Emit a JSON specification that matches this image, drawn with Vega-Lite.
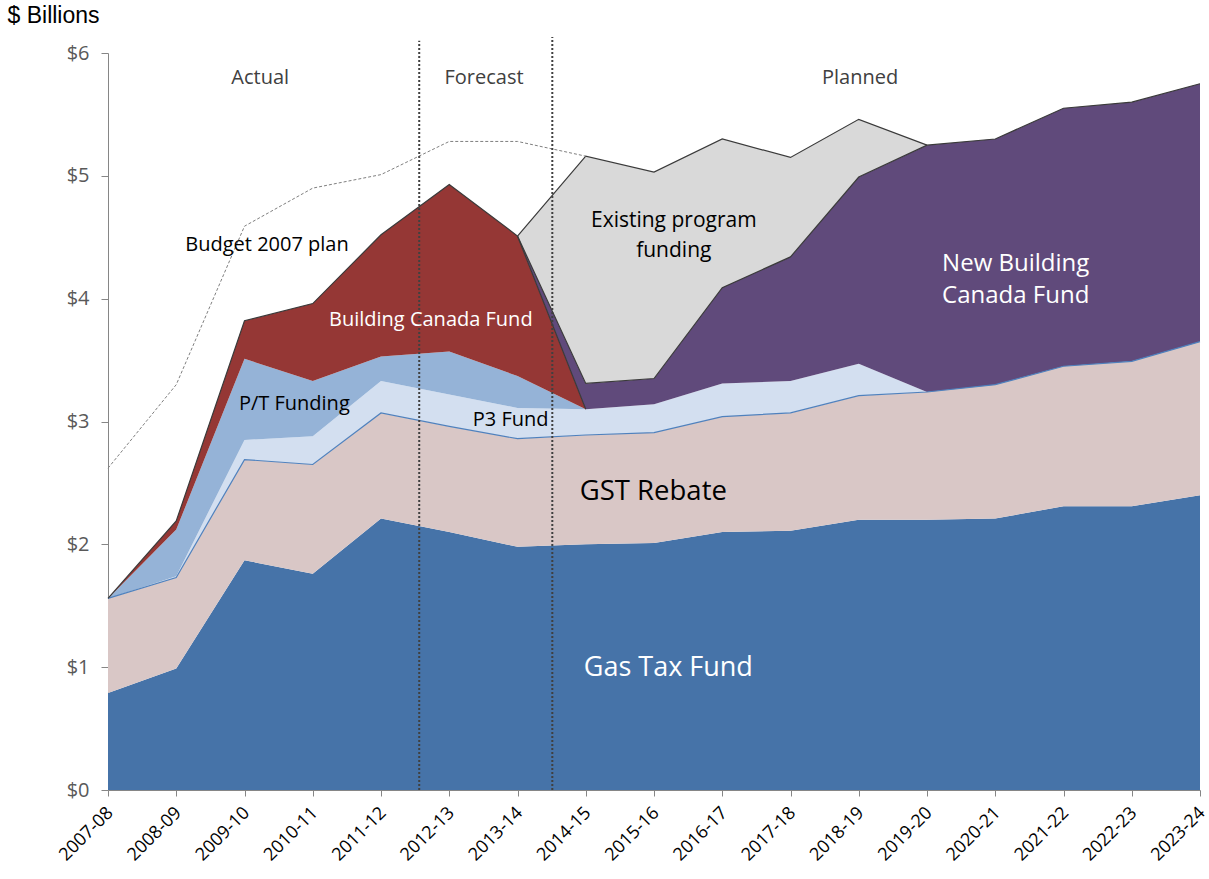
{
  "$schema": "https://vega.github.io/schema/vega-lite/v6.json",
  "autosize": "none",
  "width": 1092,
  "height": 737,
  "padding": {"left": 108, "top": 53, "right": 9, "bottom": 89},
  "background": "white",
  "config": {"view": {"stroke": null}, "font": "Open Sans"},
  "datasets": {
    "funding": [
      {"year": 2007, "Gas Tax Fund": 0.79, "GST Rebate": 0.77, "P3 Fund": 0, "P/T Funding": 0, "Building Canada Fund": 0, "New Building Canada Fund": 0, "Existing program funding": 0},
      {"year": 2008, "Gas Tax Fund": 0.99, "GST Rebate": 0.74, "P3 Fund": 0.01, "P/T Funding": 0.38, "Building Canada Fund": 0.07, "New Building Canada Fund": 0, "Existing program funding": 0},
      {"year": 2009, "Gas Tax Fund": 1.87, "GST Rebate": 0.82, "P3 Fund": 0.16, "P/T Funding": 0.66, "Building Canada Fund": 0.31, "New Building Canada Fund": 0, "Existing program funding": 0},
      {"year": 2010, "Gas Tax Fund": 1.76, "GST Rebate": 0.89, "P3 Fund": 0.23, "P/T Funding": 0.45, "Building Canada Fund": 0.63, "New Building Canada Fund": 0, "Existing program funding": 0},
      {"year": 2011, "Gas Tax Fund": 2.21, "GST Rebate": 0.86, "P3 Fund": 0.26, "P/T Funding": 0.2, "Building Canada Fund": 0.99, "New Building Canada Fund": 0, "Existing program funding": 0},
      {"year": 2012, "Gas Tax Fund": 2.1, "GST Rebate": 0.86, "P3 Fund": 0.26, "P/T Funding": 0.35, "Building Canada Fund": 1.36, "New Building Canada Fund": 0, "Existing program funding": 0},
      {"year": 2013, "Gas Tax Fund": 1.98, "GST Rebate": 0.88, "P3 Fund": 0.25, "P/T Funding": 0.26, "Building Canada Fund": 1.14, "New Building Canada Fund": 0, "Existing program funding": 0},
      {"year": 2014, "Gas Tax Fund": 2.0, "GST Rebate": 0.89, "P3 Fund": 0.21, "P/T Funding": 0, "Building Canada Fund": 0, "New Building Canada Fund": 0.21, "Existing program funding": 1.85},
      {"year": 2015, "Gas Tax Fund": 2.01, "GST Rebate": 0.9, "P3 Fund": 0.23, "P/T Funding": 0, "Building Canada Fund": 0, "New Building Canada Fund": 0.21, "Existing program funding": 1.68},
      {"year": 2016, "Gas Tax Fund": 2.1, "GST Rebate": 0.94, "P3 Fund": 0.27, "P/T Funding": 0, "Building Canada Fund": 0, "New Building Canada Fund": 0.78, "Existing program funding": 1.21},
      {"year": 2017, "Gas Tax Fund": 2.11, "GST Rebate": 0.96, "P3 Fund": 0.26, "P/T Funding": 0, "Building Canada Fund": 0, "New Building Canada Fund": 1.01, "Existing program funding": 0.81},
      {"year": 2018, "Gas Tax Fund": 2.2, "GST Rebate": 1.01, "P3 Fund": 0.26, "P/T Funding": 0, "Building Canada Fund": 0, "New Building Canada Fund": 1.52, "Existing program funding": 0.47},
      {"year": 2019, "Gas Tax Fund": 2.2, "GST Rebate": 1.04, "P3 Fund": 0, "P/T Funding": 0, "Building Canada Fund": 0, "New Building Canada Fund": 2.01, "Existing program funding": 0},
      {"year": 2020, "Gas Tax Fund": 2.21, "GST Rebate": 1.09, "P3 Fund": 0, "P/T Funding": 0, "Building Canada Fund": 0, "New Building Canada Fund": 2.0, "Existing program funding": 0},
      {"year": 2021, "Gas Tax Fund": 2.31, "GST Rebate": 1.14, "P3 Fund": 0, "P/T Funding": 0, "Building Canada Fund": 0, "New Building Canada Fund": 2.1, "Existing program funding": 0},
      {"year": 2022, "Gas Tax Fund": 2.31, "GST Rebate": 1.18, "P3 Fund": 0, "P/T Funding": 0, "Building Canada Fund": 0, "New Building Canada Fund": 2.11, "Existing program funding": 0},
      {"year": 2023, "Gas Tax Fund": 2.4, "GST Rebate": 1.25, "P3 Fund": 0, "P/T Funding": 0, "Building Canada Fund": 0, "New Building Canada Fund": 2.1, "Existing program funding": 0}
    ],
    "budget": [
      {"year": 2007, "plan": 2.62},
      {"year": 2008, "plan": 3.3},
      {"year": 2009, "plan": 4.59},
      {"year": 2010, "plan": 4.9},
      {"year": 2011, "plan": 5.01},
      {"year": 2012, "plan": 5.28},
      {"year": 2013, "plan": 5.28},
      {"year": 2014, "plan": 5.16}
    ]
  },
  "layer": [
    {
      "data": {"name": "funding"},
      "transform": [
        {"fold": ["Gas Tax Fund", "GST Rebate", "P3 Fund", "P/T Funding", "Building Canada Fund", "New Building Canada Fund", "Existing program funding"], "as": ["series", "value"]},
        {"calculate": "indexof(['Gas Tax Fund','GST Rebate','P3 Fund','P/T Funding','Building Canada Fund','New Building Canada Fund','Existing program funding'], datum.series)", "as": "ord"},
        {"stack": "value", "groupby": ["year"], "sort": [{"field": "ord", "order": "ascending"}], "as": ["v0", "v1"]}
      ],
      "layer": [
        {
          "mark": {"type": "area", "interpolate": "linear"},
          "encoding": {
            "x": {
              "field": "year", "type": "quantitative",
              "scale": {"domain": [2007, 2023], "nice": false, "zero": false},
              "axis": {
                "title": null,
                "values": [2007, 2008, 2009, 2010, 2011, 2012, 2013, 2014, 2015, 2016, 2017, 2018, 2019, 2020, 2021, 2022, 2023],
                "labelExpr": "datum.value + '-' + slice(toString(datum.value + 1), 2)",
                "labelAngle": -45, "labelAlign": "right", "labelBaseline": "middle",
                "labelFont": "Open Sans", "labelFontSize": 18, "labelColor": "#000000", "labelPadding": 14, "labelOffset": 2,
                "labelBound": false, "labelOverlap": false,
                "domainColor": "#868686", "tickColor": "#868686", "tickSize": 6, "grid": false
              }
            },
            "y": {
              "field": "v1", "type": "quantitative",
              "scale": {"domain": [0, 6], "nice": false},
              "axis": {
                "title": "$ Billions", "titleAngle": 0, "titleX": -101, "titleY": -38,
                "titleAlign": "left", "titleBaseline": "middle", "titleFont": "Liberation Sans",
                "titleFontSize": 23, "titleFontWeight": "normal", "titleColor": "#000000",
                "values": [0, 1, 2, 3, 4, 5, 6],
                "labelExpr": "'$' + datum.value",
                "labelFont": "Open Sans", "labelFontSize": 20, "labelColor": "#595959", "labelPadding": 12,
                "domainColor": "#868686", "tickColor": "#868686", "tickSize": 7, "grid": false
              }
            },
            "y2": {"field": "v0"},
            "fill": {
              "field": "series", "type": "nominal",
              "scale": {
                "domain": ["Gas Tax Fund", "GST Rebate", "P3 Fund", "P/T Funding", "Building Canada Fund", "New Building Canada Fund", "Existing program funding"],
                "range": ["#4673A8", "#D9C7C6", "#D3DFF0", "#95B3D7", "#953735", "#604A7B", "#D9D9D9"]
              },
              "legend": null
            }
          }
        },
        {
          "transform": [
            {"filter": "datum.series == 'GST Rebate' || (datum.series == 'Building Canada Fund' && datum.year <= 2014) || (datum.series == 'New Building Canada Fund' && datum.year >= 2013) || (datum.series == 'Existing program funding' && datum.year >= 2013 && datum.year <= 2019)"}
          ],
          "mark": {"type": "line", "strokeWidth": 1.2},
          "encoding": {
            "x": {"field": "year", "type": "quantitative"},
            "y": {"field": "v1", "type": "quantitative"},
            "stroke": {
              "field": "series", "type": "nominal",
              "scale": {
                "domain": ["GST Rebate", "Building Canada Fund", "New Building Canada Fund", "Existing program funding"],
                "range": ["#4F81BD", "#3A3A3A", "#3A3A3A", "#3A3A3A"]
              },
              "legend": null
            }
          }
        }
      ]
    },
    {
      "data": {"name": "budget"},
      "mark": {"type": "line", "stroke": "#7F7F7F", "strokeWidth": 1, "strokeDash": [3, 2]},
      "encoding": {
        "x": {"field": "year", "type": "quantitative"},
        "y": {"field": "plan", "type": "quantitative"}
      }
    },
    {
      "data": {"values": [{"x": 2011.56, "lo": 0, "hi": 6.1}, {"x": 2013.51, "lo": 0, "hi": 6.13}]},
      "mark": {"type": "rule", "stroke": "#404040", "strokeWidth": 2, "strokeDash": [2, 2]},
      "encoding": {
        "x": {"field": "x", "type": "quantitative"},
        "y": {"field": "lo", "type": "quantitative"},
        "y2": {"field": "hi"}
      }
    },
    {
      "data": {"values": [
        {"label": "Actual", "x": 2009.23, "y": 5.8},
        {"label": "Forecast", "x": 2012.51, "y": 5.8},
        {"label": "Planned", "x": 2018.02, "y": 5.8}
      ]},
      "mark": {"type": "text", "font": "Open Sans", "fontSize": 20, "color": "#404040", "align": "center", "baseline": "middle"},
      "encoding": {"x": {"field": "x", "type": "quantitative"}, "y": {"field": "y", "type": "quantitative"}, "text": {"field": "label"}}
    },
    {
      "data": {"values": [
        {"label": "Budget 2007 plan", "x": 2009.33, "y": 4.44},
        {"label": "P/T Funding", "x": 2009.73, "y": 3.14},
        {"label": "P3 Fund", "x": 2012.9, "y": 3.01}
      ]},
      "mark": {"type": "text", "font": "Open Sans", "fontSize": 20, "color": "#000000", "align": "center", "baseline": "middle"},
      "encoding": {"x": {"field": "x", "type": "quantitative"}, "y": {"field": "y", "type": "quantitative"}, "text": {"field": "label"}}
    },
    {
      "data": {"values": [
        {"label": "Existing program", "x": 2015.29, "y": 4.63},
        {"label": "funding", "x": 2015.29, "y": 4.39}
      ]},
      "mark": {"type": "text", "font": "Open Sans", "fontSize": 21, "color": "#000000", "align": "center", "baseline": "middle"},
      "encoding": {"x": {"field": "x", "type": "quantitative"}, "y": {"field": "y", "type": "quantitative"}, "text": {"field": "label"}}
    },
    {
      "data": {"values": [
        {"label": "GST Rebate", "x": 2014.99, "y": 2.43}
      ]},
      "mark": {"type": "text", "font": "Open Sans", "fontSize": 27.5, "color": "#000000", "align": "center", "baseline": "middle"},
      "encoding": {"x": {"field": "x", "type": "quantitative"}, "y": {"field": "y", "type": "quantitative"}, "text": {"field": "label"}}
    },
    {
      "data": {"values": [
        {"label": "Building Canada Fund", "x": 2011.73, "y": 3.83}
      ]},
      "mark": {"type": "text", "font": "Open Sans", "fontSize": 20, "color": "#FFFFFF", "align": "center", "baseline": "middle"},
      "encoding": {"x": {"field": "x", "type": "quantitative"}, "y": {"field": "y", "type": "quantitative"}, "text": {"field": "label"}}
    },
    {
      "data": {"values": [
        {"label": "Gas Tax Fund", "x": 2015.21, "y": 0.99}
      ]},
      "mark": {"type": "text", "font": "Open Sans", "fontSize": 27, "color": "#FFFFFF", "align": "center", "baseline": "middle"},
      "encoding": {"x": {"field": "x", "type": "quantitative"}, "y": {"field": "y", "type": "quantitative"}, "text": {"field": "label"}}
    },
    {
      "data": {"values": [
        {"label": "New Building", "x": 2020.3, "y": 4.28},
        {"label": "Canada Fund", "x": 2020.3, "y": 4.02}
      ]},
      "mark": {"type": "text", "font": "Open Sans", "fontSize": 24, "color": "#FFFFFF", "align": "center", "baseline": "middle"},
      "encoding": {"x": {"field": "x", "type": "quantitative"}, "y": {"field": "y", "type": "quantitative"}, "text": {"field": "label"}}
    }
  ]
}
